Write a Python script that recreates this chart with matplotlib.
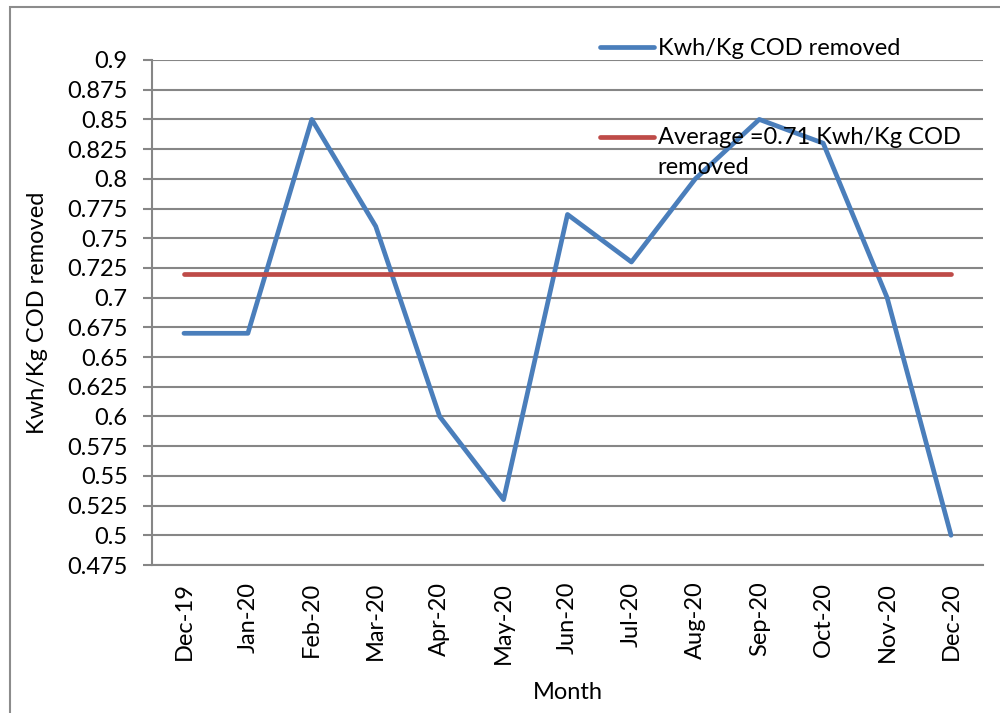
import matplotlib.pyplot as plt
import numpy as np
from matplotlib.legend_handler import HandlerLine2D
from matplotlib.patches import Rectangle

plt.rcParams['font.family'] = ['Lato', 'DejaVu Sans']

# data
months = ['Dec-19', 'Jan-20', 'Feb-20', 'Mar-20', 'Apr-20', 'May-20', 'Jun-20',
          'Jul-20', 'Aug-20', 'Sep-20', 'Oct-20', 'Nov-20', 'Dec-20']
kwh_per_kg = [0.67, 0.67, 0.85, 0.76, 0.60, 0.53, 0.77, 0.73, 0.80, 0.85, 0.83, 0.70, 0.50]
average = [0.72] * len(months)
yticks = np.arange(0.475, 0.9001, 0.025)

FS = 17


class TopLine(HandlerLine2D):
    # put the handle next to the first line of a wrapped label
    def create_artists(self, legend, orig_handle, xdescent, ydescent, width, height, fontsize, trans):
        arts = super().create_artists(legend, orig_handle, xdescent, ydescent, width, height, fontsize, trans)
        for a in arts:
            a.set_ydata(np.asarray(a.get_ydata()) + 0.68 * fontsize)
        return arts


fig = plt.figure(figsize=(10, 7.13), dpi=100)
fig.add_artist(Rectangle((0.0095, -0.05), 1.1, 1.05 - 7 / 713, transform=fig.transFigure,
                         fill=False, edgecolor='#8c8c8c', linewidth=1.5))
ax = fig.add_axes([0.152, 1 - 565 / 713, 0.831, (565 - 60) / 713])

x = np.arange(len(months))
l1, = ax.plot(x, kwh_per_kg, color='#4a7ebb', linewidth=3.4, solid_capstyle='round',
              label='Kwh/Kg COD removed', zorder=3)
l2, = ax.plot(x, average, color='#be4b48', linewidth=3.4, solid_capstyle='round',
              label='Average =0.71 Kwh/Kg COD\nremoved', zorder=3)

ax.set_xlim(-0.5, len(months) - 0.5)
ax.set_ylim(0.475, 0.9)
ax.set_yticks(yticks)
ax.set_yticklabels([('%.3f' % v).rstrip('0').rstrip('.') for v in yticks])
ax.set_xticks(x)
ax.set_xticklabels(months, rotation=90)

ax.grid(axis='y', color='#868686', linewidth=1.5)
ax.set_axisbelow(True)
for s in ['top', 'right']:
    ax.spines[s].set_visible(False)
for s in ['left', 'bottom']:
    ax.spines[s].set_color('#868686')
    ax.spines[s].set_linewidth(1.5)

ax.tick_params(axis='y', length=6.5, width=1.5, color='#868686', pad=11, labelsize=FS)
ax.tick_params(axis='x', length=0, pad=12, labelsize=FS)

ax.set_ylabel('Kwh/Kg COD removed', fontsize=FS, labelpad=14)
ax.set_xlabel('Month', fontsize=FS, labelpad=13)

leg = ax.legend(handles=[l1, l2], loc='upper left', bbox_to_anchor=(0.539, 1.044),
                frameon=False, fontsize=FS, handlelength=2.3, handletextpad=0.15,
                labelspacing=2.88, borderpad=0, borderaxespad=0,
                handler_map={l2: TopLine()})
leg.get_texts()[1].set_linespacing(1.55)

fig.savefig('out.png', dpi=100)
